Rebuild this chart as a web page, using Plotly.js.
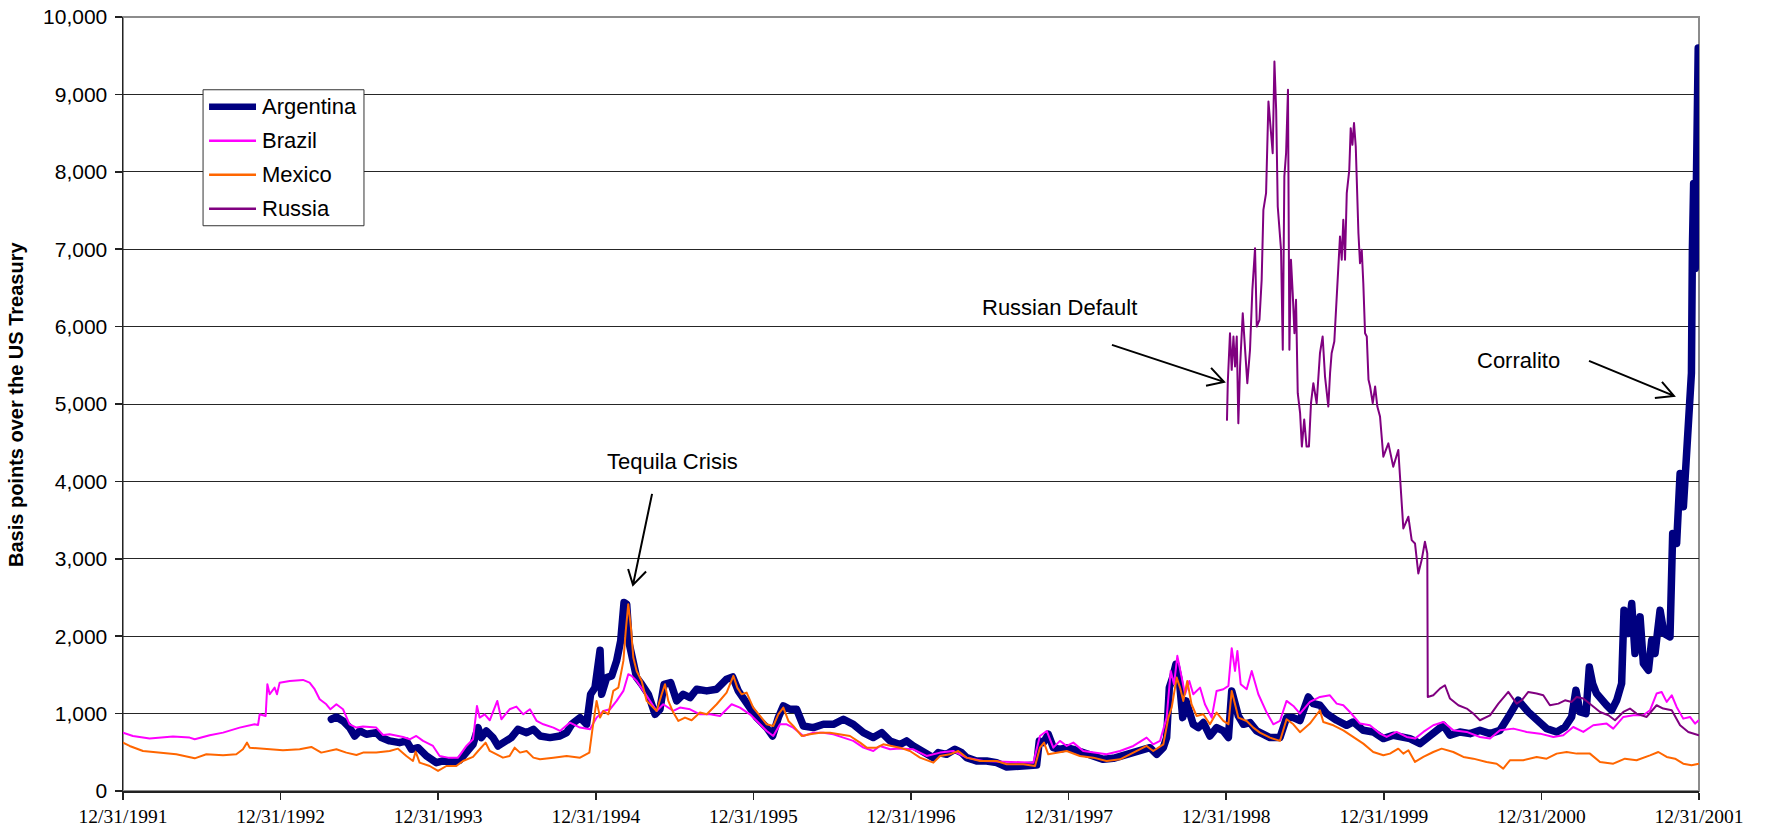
<!DOCTYPE html>
<html>
<head>
<meta charset="utf-8">
<script src="https://cdn.plot.ly/plotly-3.0.1.min.js"></script>
<style>html,body{margin:0;padding:0;background:#fff;}#chart{width:1766px;height:833px;}
.scatterlayer .js-line{stroke-linejoin:round;stroke-linecap:round;}</style>
</head>
<body>
<div id="chart"></div>
<script>
// x values are decimal years: 1992.0 corresponds to the 12/31/1991 tick
const tickVals = [1992,1993,1994,1995,1996,1997,1998,1999,2000,2001,2002];
const tickText = ["12/31/1991","12/31/1992","12/31/1993","12/31/1994","12/31/1995","12/31/1996","12/31/1997","12/31/1998","12/31/1999","12/31/2000","12/31/2001"];
const seriesNames = ["Argentina","Brazil","Mexico","Russia"];
const seriesColors = ["#000080","#FF00FF","#FF6600","#800080"];

const argX = [1993.322,1993.354,1993.396,1993.438,1993.470,1993.502,1993.544,1993.607,1993.639,1993.692,1993.755,1993.798,1993.830,1993.872,1993.925,1993.988,1994.030,1994.094,1994.136,1994.179,1994.221,1994.253,1994.274,1994.305,1994.348,1994.380,1994.422,1994.464,1994.506,1994.561,1994.604,1994.646,1994.709,1994.773,1994.815,1994.847,1994.900,1994.942,1994.967,1994.995,1995.027,1995.037,1995.069,1995.101,1995.132,1995.158,1995.179,1995.196,1995.213,1995.238,1995.259,1995.291,1995.333,1995.376,1995.407,1995.433,1995.475,1995.513,1995.555,1995.598,1995.640,1995.704,1995.767,1995.830,1995.868,1995.904,1995.957,1996.021,1996.084,1996.122,1996.158,1996.190,1996.232,1996.274,1996.317,1996.380,1996.444,1996.507,1996.571,1996.634,1996.698,1996.761,1996.814,1996.867,1996.930,1996.972,1997.015,1997.078,1997.142,1997.173,1997.226,1997.279,1997.321,1997.353,1997.416,1997.480,1997.543,1997.607,1997.670,1997.734,1997.797,1997.814,1997.840,1997.871,1997.903,1997.945,1997.988,1998.030,1998.093,1998.157,1998.220,1998.284,1998.347,1998.411,1998.474,1998.516,1998.559,1998.601,1998.622,1998.639,1998.660,1998.681,1998.703,1998.724,1998.745,1998.770,1998.791,1998.823,1998.855,1998.897,1998.939,1998.982,1999.014,1999.035,1999.056,1999.077,1999.109,1999.151,1999.193,1999.235,1999.278,1999.341,1999.383,1999.426,1999.468,1999.521,1999.553,1999.595,1999.637,1999.701,1999.764,1999.806,1999.870,1999.933,1999.997,2000.060,2000.103,2000.166,2000.230,2000.282,2000.335,2000.378,2000.420,2000.483,2000.547,2000.610,2000.674,2000.737,2000.790,2000.853,2000.917,2000.970,2001.033,2001.097,2001.150,2001.192,2001.219,2001.245,2001.283,2001.304,2001.325,2001.350,2001.382,2001.414,2001.446,2001.478,2001.509,2001.524,2001.552,2001.573,2001.594,2001.626,2001.647,2001.679,2001.700,2001.721,2001.753,2001.778,2001.816,2001.833,2001.858,2001.880,2001.901,2001.922,2001.940,2001.952,2001.958,2001.966,2001.976,2001.985,2001.995];
const argY = [927,957,905,819,711,776,733,754,690,647,625,647,539,560,453,366,388,375,397,517,603,819,690,776,690,582,625,690,797,754,797,711,690,711,754,862,948,862,1250,1336,1819,1250,1465,1487,1681,1940,2435,2414,1896,1681,1465,1379,1250,991,1056,1379,1401,1164,1250,1207,1315,1293,1315,1444,1474,1293,1121,948,819,711,948,1099,1056,1056,840,819,862,862,927,862,754,690,754,647,600,647,582,496,431,496,474,539,496,431,388,388,366,310,323,323,336,647,625,733,560,539,560,539,496,453,409,422,453,496,539,560,474,560,690,1336,1465,1638,1422,948,1164,991,862,819,884,711,819,776,690,1293,1164,970,862,884,776,733,690,690,948,948,910,1215,1129,1108,1000,914,849,892,784,763,677,720,698,677,612,698,806,849,720,763,741,784,741,784,957,1172,1021,914,806,763,827,957,1302,1021,1000,1603,1388,1259,1172,1108,1043,1172,1388,2336,2034,2422,1776,2250,1646,1560,1948,1776,2336,2034,1991,3327,3198,4103,3672,4448,5050,5400,7000,7850,6750,7800,9600];

const braX = [1992.000,1992.063,1992.169,1992.317,1992.423,1992.455,1992.550,1992.635,1992.740,1992.835,1992.857,1992.867,1992.905,1992.916,1992.931,1992.962,1992.977,1992.994,1993.058,1993.142,1993.184,1993.216,1993.248,1993.290,1993.316,1993.354,1993.396,1993.438,1993.481,1993.523,1993.607,1993.650,1993.692,1993.777,1993.819,1993.861,1993.904,1993.967,1994.009,1994.062,1994.126,1994.179,1994.221,1994.246,1994.263,1994.295,1994.327,1994.348,1994.375,1994.401,1994.453,1994.496,1994.540,1994.582,1994.625,1994.667,1994.731,1994.773,1994.836,1994.900,1994.963,1995.005,1995.048,1995.090,1995.132,1995.175,1995.206,1995.227,1995.259,1995.302,1995.344,1995.386,1995.428,1995.492,1995.534,1995.598,1995.661,1995.725,1995.788,1995.862,1995.915,1995.978,1996.042,1996.084,1996.126,1996.169,1996.211,1996.253,1996.317,1996.380,1996.444,1996.507,1996.571,1996.634,1996.698,1996.761,1996.803,1996.867,1996.930,1997.015,1997.099,1997.184,1997.268,1997.353,1997.459,1997.565,1997.670,1997.776,1997.818,1997.861,1997.903,1997.945,1997.988,1998.030,1998.093,1998.157,1998.241,1998.326,1998.411,1998.495,1998.537,1998.580,1998.622,1998.648,1998.669,1998.690,1998.711,1998.739,1998.766,1998.791,1998.834,1998.865,1998.908,1998.939,1998.982,1999.014,1999.035,1999.056,1999.071,1999.092,1999.130,1999.162,1999.204,1999.257,1999.299,1999.341,1999.383,1999.426,1999.468,1999.531,1999.595,1999.658,1999.701,1999.743,1999.785,1999.849,1999.912,1999.976,2000.018,2000.081,2000.145,2000.198,2000.251,2000.314,2000.378,2000.441,2000.526,2000.610,2000.674,2000.737,2000.822,2000.906,2000.991,2001.076,2001.139,2001.202,2001.266,2001.329,2001.414,2001.456,2001.520,2001.583,2001.647,2001.689,2001.731,2001.763,2001.795,2001.827,2001.858,2001.900,2001.943,2001.975,2001.999];
const braY = [754,711,677,703,690,668,720,754,819,862,853,991,970,1379,1250,1336,1250,1400,1422,1435,1400,1315,1185,1120,1056,1120,1056,862,819,832,819,724,733,698,668,711,647,582,453,431,431,582,668,1099,948,991,914,1034,1163,927,1056,1090,991,1056,905,862,819,776,884,819,797,948,1034,1056,1164,1293,1509,1487,1422,1293,1164,1034,1121,1034,1078,1056,991,991,970,1121,1078,991,862,776,711,862,862,819,711,754,754,733,690,647,560,517,582,539,550,539,453,496,517,431,388,379,375,366,711,776,560,647,582,625,517,496,474,517,582,690,603,647,948,1551,1379,1746,1530,1250,1422,1250,1336,1121,948,1293,1315,1358,1845,1551,1810,1379,1315,1551,1250,1013,862,905,1164,1099,1000,1151,1215,1237,1129,1108,1021,871,849,741,698,763,698,677,763,849,892,784,763,698,677,784,806,763,741,698,720,827,763,849,871,806,957,978,978,1043,1259,1280,1151,1237,1086,935,957,871,914];

const mexX = [1992.000,1992.042,1992.127,1992.254,1992.338,1992.455,1992.529,1992.635,1992.719,1992.761,1992.787,1992.804,1992.909,1993.015,1993.121,1993.195,1993.258,1993.354,1993.417,1993.481,1993.523,1993.607,1993.692,1993.745,1993.798,1993.840,1993.857,1993.882,1993.946,1993.999,1994.052,1994.115,1994.157,1994.221,1994.253,1994.301,1994.327,1994.369,1994.411,1994.453,1994.485,1994.519,1994.561,1994.604,1994.646,1994.731,1994.815,1994.900,1994.959,1994.980,1995.005,1995.027,1995.048,1995.080,1995.111,1995.143,1995.175,1995.190,1995.206,1995.223,1995.238,1995.259,1995.291,1995.323,1995.354,1995.386,1995.418,1995.439,1995.460,1995.492,1995.524,1995.566,1995.608,1995.661,1995.704,1995.767,1995.830,1995.873,1995.898,1995.925,1995.957,1995.999,1996.042,1996.084,1996.126,1996.158,1996.190,1996.222,1996.253,1996.306,1996.359,1996.423,1996.486,1996.550,1996.613,1996.677,1996.719,1996.782,1996.824,1996.876,1996.930,1996.993,1997.057,1997.142,1997.184,1997.247,1997.300,1997.353,1997.438,1997.543,1997.607,1997.713,1997.787,1997.818,1997.844,1997.871,1997.924,1997.988,1998.072,1998.157,1998.241,1998.326,1998.411,1998.495,1998.537,1998.601,1998.633,1998.654,1998.686,1998.707,1998.728,1998.753,1998.780,1998.812,1998.855,1998.897,1998.939,1998.982,1999.014,1999.035,1999.056,1999.077,1999.130,1999.172,1999.214,1999.278,1999.341,1999.383,1999.426,1999.468,1999.531,1999.595,1999.616,1999.680,1999.743,1999.806,1999.870,1999.933,1999.997,2000.039,2000.092,2000.124,2000.156,2000.198,2000.251,2000.314,2000.367,2000.441,2000.505,2000.568,2000.652,2000.716,2000.758,2000.800,2000.885,2000.970,2001.033,2001.097,2001.160,2001.224,2001.308,2001.372,2001.456,2001.530,2001.604,2001.689,2001.742,2001.795,2001.848,2001.900,2001.953,2001.999];
const mexY = [625,582,517,496,474,422,474,461,474,539,625,560,539,526,539,569,496,539,496,465,496,496,517,547,453,388,509,366,323,259,323,323,388,440,517,625,517,474,431,453,560,496,517,431,409,431,453,431,496,819,1164,948,1034,991,1293,1336,1681,2069,2414,2112,1724,1551,1422,1164,1099,1034,1250,1379,1164,1013,905,948,914,1013,991,1121,1271,1487,1336,1250,1271,1078,970,862,840,991,1078,905,840,711,733,754,754,733,711,625,560,560,603,582,560,517,431,366,453,474,517,431,388,388,345,345,323,560,625,474,496,517,453,431,388,409,496,582,517,603,948,1078,1465,1336,1164,1422,1121,970,991,862,1013,905,862,1293,1121,948,905,819,754,690,647,927,862,760,871,1043,892,849,784,698,612,504,461,483,547,483,526,375,440,504,547,504,440,418,375,353,289,397,397,440,418,483,504,483,483,375,353,418,397,461,504,440,418,353,332,353];

const rusX = [1999.005,1999.010,1999.024,1999.035,1999.046,1999.056,1999.067,1999.077,1999.088,1999.105,1999.120,1999.134,1999.151,1999.166,1999.183,1999.194,1999.211,1999.225,1999.236,1999.253,1999.268,1999.283,1999.295,1999.306,1999.317,1999.327,1999.338,1999.348,1999.359,1999.369,1999.380,1999.392,1999.401,1999.411,1999.422,1999.433,1999.443,1999.454,1999.469,1999.480,1999.495,1999.510,1999.525,1999.538,1999.553,1999.574,1999.595,1999.612,1999.627,1999.648,1999.659,1999.669,1999.686,1999.701,1999.712,1999.722,1999.733,1999.743,1999.754,1999.765,1999.781,1999.790,1999.801,1999.811,1999.822,1999.828,1999.839,1999.849,1999.860,1999.870,1999.881,1999.892,1999.903,1999.913,1999.930,1999.945,1999.959,1999.976,1999.997,2000.029,2000.060,2000.092,2000.103,2000.124,2000.156,2000.177,2000.198,2000.219,2000.240,2000.261,2000.276,2000.279,2000.314,2000.356,2000.388,2000.420,2000.473,2000.526,2000.568,2000.610,2000.674,2000.727,2000.790,2000.843,2000.875,2000.917,2000.970,2001.012,2001.054,2001.108,2001.150,2001.192,2001.224,2001.266,2001.319,2001.372,2001.425,2001.467,2001.520,2001.562,2001.604,2001.668,2001.731,2001.773,2001.827,2001.880,2001.932,2001.999];
const rusY = [4795,5277,5915,5441,5872,5484,5872,4750,5484,6173,5700,5269,5700,6475,7013,6001,6087,6604,7509,7724,8909,8586,8241,9426,8801,7552,7207,6992,5700,7940,8241,9060,5700,6863,6432,5915,6346,5140,4881,4450,4800,4450,4450,5010,5269,5010,5656,5872,5355,4967,5398,5656,5807,6389,6820,7164,6863,7380,6863,7724,8026,8564,8349,8629,8327,7896,7207,6820,6992,6561,5915,5872,5312,5226,5010,5226,4967,4838,4319,4491,4189,4405,4017,3392,3543,3241,3198,2810,2983,3220,3069,1215,1237,1323,1366,1194,1108,1065,1000,914,978,1129,1280,1129,1172,1280,1259,1237,1108,1129,1172,1151,1215,1194,1108,1021,978,914,1021,1065,1000,957,1108,1065,1043,849,763,720];

// Annotation texts and arrow geometry in data units (year, basis points)
const notes = [
  {text: "Tequila Crisis", x: 1995.484, y: 4252,
   shaft: [[1995.357,3839],[1995.236,2663]], head: [[1995.205,2869],[1995.236,2663],[1995.319,2835]]},
  {text: "Russian Default", x: 1997.945, y: 6243,
   shaft: [[1998.275,5764],[1998.986,5286]], head: [[1998.904,5467],[1998.986,5286],[1998.872,5235]]},
  {text: "Corralito", x: 2000.852, y: 5563,
   shaft: [[2001.302,5558],[2001.841,5105]], head: [[2001.765,5286],[2001.841,5105],[2001.720,5079]]}
];

const xs = [argX, braX, mexX, rusX];
const ys = [argY, braY, mexY, rusY];
const widths = [7.5, 2, 2, 2];

const traces = seriesNames.map((n, i) => ({
  x: xs[i], y: ys[i], name: n, type: 'scatter', mode: 'lines',
  line: {color: seriesColors[i], width: widths[i]}, showlegend: false, hoverinfo: 'skip'
}));

const sans = 'Liberation Sans, Arial, sans-serif';
const shapes = [];
const annotations = [];

// plot-area border (grey top/right)
shapes.push({type: 'rect', xref: 'paper', yref: 'paper', x0: 0, x1: 1, y0: 0, y1: 1,
  line: {color: '#8c8c8c', width: 2}, layer: 'below'});

notes.forEach(nt => {
  const p = 'M' + nt.shaft[0].join(',') + ' L' + nt.shaft[1].join(',') +
            ' M' + nt.head[0].join(',') + ' L' + nt.head[1].join(',') + ' L' + nt.head[2].join(',');
  shapes.push({type: 'path', xref: 'x', yref: 'y', path: p, line: {color: '#000', width: 2}});
  annotations.push({text: nt.text, x: nt.x, y: nt.y, xref: 'x', yref: 'y', showarrow: false,
    font: {family: sans, size: 22, color: '#000'}, xanchor: 'center', yanchor: 'middle'});
});

// legend box drawn manually
const L = {x0: 0.0508, x1: 0.1529, y0: 0.7303, y1: 0.9060, lx0: 0.0546, lx1: 0.0844, tx: 0.0869,
           rows: [0.8841, 0.8401, 0.7962, 0.7522]};
shapes.push({type: 'rect', xref: 'paper', yref: 'paper', x0: L.x0, x1: L.x1, y0: L.y0, y1: L.y1,
  line: {color: '#333', width: 1}, fillcolor: '#fff', layer: 'above'});
seriesNames.forEach((n, i) => {
  shapes.push({type: 'line', xref: 'paper', yref: 'paper', x0: L.lx0, x1: L.lx1, y0: L.rows[i], y1: L.rows[i],
    line: {color: seriesColors[i], width: i === 0 ? 6.5 : 2.5}, layer: 'above'});
  annotations.push({text: n, xref: 'paper', yref: 'paper', x: L.tx, y: L.rows[i], showarrow: false,
    xanchor: 'left', yanchor: 'middle', font: {family: sans, size: 22, color: '#000'}});
});

// y-axis title
annotations.push({text: '<b>Basis points over the US Treasury</b>', xref: 'paper', yref: 'paper',
  x: -0.0679, y: 0.5, showarrow: false, textangle: -90, xanchor: 'center', yanchor: 'middle',
  font: {family: sans, size: 20, color: '#000'}});

const layout = {
  width: 1766, height: 833,
  margin: {l: 123, r: 67, t: 17, b: 42},
  paper_bgcolor: '#fff', plot_bgcolor: '#fff',
  showlegend: false,
  xaxis: {range: [1992, 2002], tickmode: 'array', tickvals: tickVals, ticktext: tickText,
    showgrid: false, zeroline: false, showline: true, linecolor: '#222', linewidth: 2,
    ticks: 'outside', ticklen: 7, tickcolor: '#222', tickwidth: 1.5,
    tickfont: {family: 'Liberation Serif, Times New Roman, serif', size: 19.5, color: '#000'}},
  yaxis: {range: [0, 10000], tickmode: 'linear', tick0: 0, dtick: 1000, tickformat: ',d',
    showgrid: true, gridcolor: '#262626', gridwidth: 1, zeroline: false,
    showline: true, linecolor: '#222', linewidth: 1.5,
    ticks: 'outside', ticklen: 7, tickcolor: '#222', tickwidth: 1.5, ticklabelstandoff: 3,
    tickfont: {family: sans, size: 21, color: '#000'}},
  shapes: shapes,
  annotations: annotations
};

Plotly.newPlot('chart', traces, layout, {staticPlot: true, displayModeBar: false});
</script>
</body>
</html>
